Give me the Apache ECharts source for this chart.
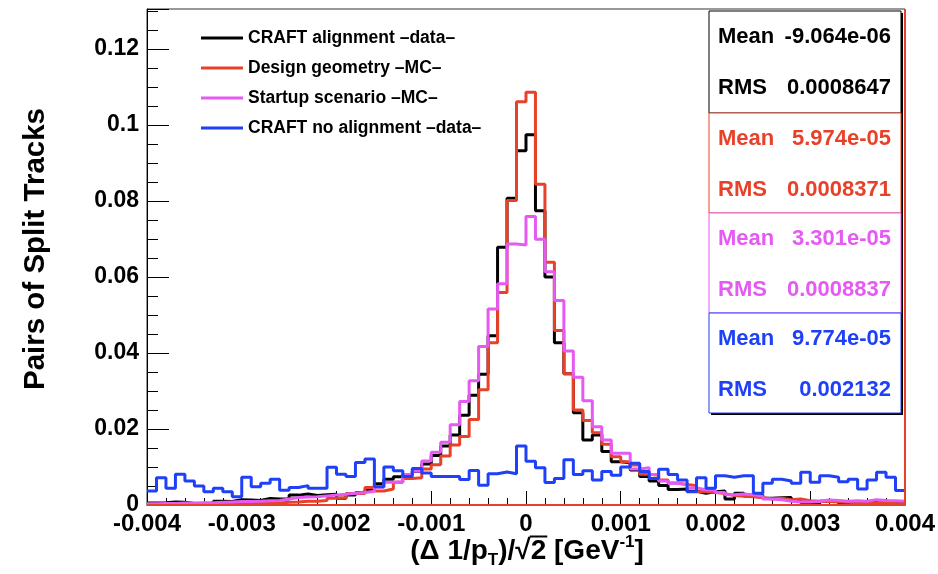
<!DOCTYPE html>
<html>
<head>
<meta charset="utf-8">
<script src="https://cdn.jsdelivr.net/npm/echarts@6/dist/echarts.min.js"></script>
<style>
  html, body { margin: 0; padding: 0; background: #fff; }
  #chart { width: 938px; height: 574px; }
</style>
</head>
<body>
<div id="chart"></div>
<script>
// Histogram binning: 80 bins of width 1e-4 from -0.004 to 0.004
const binLow = -0.004;
const binWidth = 0.0001;

const seriesNames = [
  'CRAFT alignment \u2013data\u2013',
  'Design geometry \u2013MC\u2013',
  'Startup scenario \u2013MC\u2013',
  'CRAFT no alignment \u2013data\u2013'
];
const seriesColors = ['#000000', '#e8412a', '#e45af2', '#1e40f8'];

// normalised bin contents (pairs of split tracks)
const craftAligned = [
  0.0005, 0.0006, 0.0008, 0.0007, 0.0004, 0.0002, 0.0004, 0.0010, 0.0009, 0.0014,
  0.0013, 0.0012, 0.0017, 0.0016, 0.0016, 0.0026, 0.0029, 0.0025, 0.0027, 0.0028,
  0.0018, 0.0026, 0.0032, 0.0039, 0.0056, 0.0068, 0.0074, 0.0080, 0.0088, 0.0108,
  0.0130, 0.0155, 0.0184, 0.0236, 0.0289, 0.0344, 0.0445, 0.0678, 0.0807, 0.0932,
  0.0974, 0.0774, 0.0600, 0.0427, 0.0345, 0.0243, 0.0171, 0.0184, 0.0141, 0.0114,
  0.0111, 0.0092, 0.0075, 0.0063, 0.0051, 0.0041, 0.0042, 0.0036, 0.0031, 0.0035,
  0.0037, 0.0016, 0.0031, 0.0024, 0.0026, 0.0018, 0.0019, 0.0020, 0.0013, 0.0006,
  0.0003, 0.0010, 0.0011, 0.0004, 0.0003, 0.0008, 0.0012, 0.0005, 0.0003, 0.0004
];
const designMC = [
  0.0001, 0.0001, 0.0001, 0.0002, 0.0001, 0.0002, 0.0002, 0.0003, 0.0004, 0.0003,
  0.0004, 0.0004, 0.0005, 0.0005, 0.0007, 0.0008, 0.0010, 0.0010, 0.0012, 0.0018,
  0.0019, 0.0030, 0.0030, 0.0046, 0.0037, 0.0042, 0.0060, 0.0070, 0.0072, 0.0095,
  0.0106, 0.0129, 0.0158, 0.0180, 0.0225, 0.0303, 0.0427, 0.0559, 0.0801, 0.1061,
  0.1086, 0.0844, 0.0639, 0.0459, 0.0345, 0.0250, 0.0222, 0.0190, 0.0160, 0.0127,
  0.0114, 0.0105, 0.0081, 0.0078, 0.0066, 0.0058, 0.0054, 0.0051, 0.0035, 0.0033,
  0.0030, 0.0025, 0.0023, 0.0022, 0.0019, 0.0016, 0.0018, 0.0014, 0.0016, 0.0011,
  0.0010, 0.0009, 0.0008, 0.0007, 0.0006, 0.0004, 0.0005, 0.0006, 0.0003, 0.0003
];
const startupMC = [
  0.0003, 0.0004, 0.0004, 0.0005, 0.0005, 0.0006, 0.0006, 0.0007, 0.0008, 0.0009,
  0.0009, 0.0010, 0.0011, 0.0012, 0.0016, 0.0020, 0.0021, 0.0022, 0.0024, 0.0026,
  0.0028, 0.0031, 0.0033, 0.0036, 0.0047, 0.0060, 0.0061, 0.0080, 0.0089, 0.0116,
  0.0139, 0.0165, 0.0211, 0.0272, 0.0327, 0.0417, 0.0516, 0.0582, 0.0687, 0.0684,
  0.0759, 0.0699, 0.0614, 0.0538, 0.0405, 0.0336, 0.0274, 0.0206, 0.0171, 0.0136,
  0.0136, 0.0095, 0.0098, 0.0080, 0.0063, 0.0057, 0.0053, 0.0045, 0.0040, 0.0039,
  0.0033, 0.0027, 0.0029, 0.0027, 0.0023, 0.0016, 0.0014, 0.0010, 0.0008, 0.0008,
  0.0009, 0.0013, 0.0012, 0.0010, 0.0011, 0.0010, 0.0014, 0.0012, 0.0011, 0.0010
];
const craftNoAlign = [
  0.0037, 0.0072, 0.0044, 0.0081, 0.0063, 0.0050, 0.0035, 0.0044, 0.0035, 0.0022,
  0.0073, 0.0048, 0.0057, 0.0068, 0.0039, 0.0046, 0.0051, 0.0044, 0.0044, 0.0099,
  0.0081, 0.0075, 0.0112, 0.0121, 0.0048, 0.0100, 0.0090, 0.0075, 0.0096, 0.0084,
  0.0075, 0.0075, 0.0075, 0.0067, 0.0091, 0.0052, 0.0082, 0.0087, 0.0082, 0.0155,
  0.0115, 0.0098, 0.0059, 0.0070, 0.0119, 0.0080, 0.0090, 0.0066, 0.0088, 0.0078,
  0.0100, 0.0110, 0.0088, 0.0070, 0.0094, 0.0080, 0.0066, 0.0035, 0.0072, 0.0044,
  0.0077, 0.0073, 0.0077, 0.0077, 0.0031, 0.0057, 0.0068, 0.0063, 0.0057, 0.0086,
  0.0060, 0.0077, 0.0073, 0.0061, 0.0068, 0.0042, 0.0066, 0.0086, 0.0073, 0.0038
];

// statistics box contents
const statMeans = ['-9.064e-06', '5.974e-05', '3.301e-05', '9.774e-05'];
const statRMS = ['0.0008647', '0.0008371', '0.0008837', '0.002132'];

const xMin = -0.004, xMax = 0.004, xStep = 0.001;
const yMin = 0, yMax = 0.1305, yStep = 0.02;

// turn bin contents into step-line points (left edge of every bin + closing right edge)
function toSteps(values) {
  const pts = values.map((v, i) => [binLow + i * binWidth, v]);
  pts.push([binLow + values.length * binWidth, values[values.length - 1]]);
  return pts;
}

const FONT = '"Liberation Sans", Arial, Helvetica, sans-serif';
const chart = echarts.init(document.getElementById('chart'), null, { renderer: 'canvas' });

const histos = [craftAligned, designMC, startupMC, craftNoAlign];
const series = histos.map((vals, i) => ({
  name: seriesNames[i],
  type: 'line',
  step: 'end',
  data: toSteps(vals),
  symbol: 'none',
  color: seriesColors[i],
  lineStyle: { width: 3, color: seriesColors[i] },
  z: 2 + i,
  animation: false
}));
// bottom and right frame edges redrawn in the design-geometry colour
series.push({
  type: 'line',
  data: [[xMin, yMin], [xMax, yMin], [xMax, yMax]],
  symbol: 'none',
  clip: false,
  silent: true,
  lineStyle: { width: 2, color: seriesColors[1] },
  z: 8,
  animation: false
});

// x-axis title pieces: (Δ 1/p_T)/√2 [GeV^-1]
const titleSize = 28, subSize = 17;
const titleParts = [
  { t: '(\u0394 1/p', s: titleSize },
  { t: 'T', s: subSize, dy: 9 },
  { t: ')/\u221a', s: titleSize },
  { t: '2', s: titleSize, bar: true },
  { t: ' [GeV', s: titleSize },
  { t: '-1', s: subSize, dy: -9 },
  { t: ']', s: titleSize }
];
const measureCtx = document.createElement('canvas').getContext('2d');
function textWidth(t, s) {
  measureCtx.font = 'bold ' + s + 'px ' + FONT;
  return measureCtx.measureText(t).width;
}

const graphics = [];
(function buildXTitle() {
  const cx = 147 + 760 / 2, cy = 551;
  const total = titleParts.reduce((a, p) => a + textWidth(p.t, p.s), 0);
  let x = cx - total / 2;
  titleParts.forEach(p => {
    const w = textWidth(p.t, p.s);
    graphics.push({
      type: 'text', silent: true,
      style: { x: x, y: cy + (p.dy || 0), text: p.t, fill: '#000',
               font: 'bold ' + p.s + 'px ' + FONT, textAlign: 'left', textVerticalAlign: 'middle' }
    });
    if (p.bar) {
      graphics.push({
        type: 'line', silent: true,
        shape: { x1: x - 1, y1: cy - 14.5, x2: x + w + 1, y2: cy - 14.5 },
        style: { stroke: '#000', lineWidth: 2 }
      });
    }
    x += w;
  });
})();

// statistics boxes
const boxX = 709, boxW = 192;
const boxTops = [11, 113, 213, 313];
const boxH = [102, 100, 100, 100];
for (let i = 0; i < 4; i++) {
  graphics.push({
    type: 'rect', silent: true, z: 10,
    shape: { x: boxX + 2, y: boxTops[i] + 2, width: boxW, height: boxH[i] },
    style: { fill: '#000' }
  });
}
for (let i = 0; i < 4; i++) {
  const c = seriesColors[i];
  graphics.push({
    type: 'rect', silent: true, z: 11,
    shape: { x: boxX, y: boxTops[i], width: boxW, height: boxH[i] },
    style: { fill: '#fff', stroke: c, lineWidth: 1 }
  });
  const rows = [['Mean', statMeans[i], 26], ['RMS', statRMS[i], 77]];
  rows.forEach(([lab, val, dy]) => {
    graphics.push({
      type: 'text', silent: true, z: 12,
      style: { x: 718, y: boxTops[i] + dy, text: lab, fill: c,
               font: 'bold 22px ' + FONT, textVerticalAlign: 'middle', textAlign: 'left' }
    });
    graphics.push({
      type: 'text', silent: true, z: 12,
      style: { x: 891, y: boxTops[i] + dy, text: val, fill: c,
               font: 'bold 22px ' + FONT, textVerticalAlign: 'middle', textAlign: 'right' }
    });
  });
}

const option = {
  backgroundColor: '#fff',
  animation: false,
  grid: { left: 147, right: 31, top: 9, bottom: 69, show: true, borderColor: '#333', borderWidth: 1 },
  legend: {
    data: seriesNames,
    orient: 'vertical',
    left: 201, top: 29,
    padding: 0,
    icon: 'rect',
    itemWidth: 42, itemHeight: 3,
    itemGap: 12,
    selectedMode: false,
    textStyle: { fontFamily: FONT, fontWeight: 'bold', fontSize: 17.5, color: '#000', lineHeight: 18 }
  },
  xAxis: [{
    type: 'value', min: xMin, max: xMax, interval: xStep,
    axisLine: { show: true, onZero: false, lineStyle: { color: '#000', width: 1 } },
    axisTick: { show: true, inside: true, length: 14, lineStyle: { color: '#000' } },
    minorTick: { show: true, splitNumber: 5, length: 7, lineStyle: { color: '#000' } },
    splitLine: { show: false },
    axisLabel: { fontFamily: FONT, fontWeight: 'bold', fontSize: 24, color: '#000', margin: 7 }
  }],
  yAxis: [{
    type: 'value', min: yMin, max: yMax, interval: yStep,
    axisLine: { show: true, onZero: false, lineStyle: { color: '#000', width: 1 } },
    axisTick: { show: true, inside: true, length: 22, lineStyle: { color: '#000' } },
    minorTick: { show: true, splitNumber: 4, length: 11, lineStyle: { color: '#000' } },
    splitLine: { show: false },
    axisLabel: { fontFamily: FONT, fontWeight: 'bold', fontSize: 23, color: '#000', margin: 8, showMaxLabel: false },
    name: 'Pairs of Split Tracks',
    nameLocation: 'middle', nameRotate: 90, nameGap: 96,
    nameTextStyle: { fontFamily: FONT, fontWeight: 'bold', fontSize: 29.5, color: '#000', padding: [0, 0, 0, 16] }
  }],
  series: series,
  graphic: graphics
};
chart.setOption(option);
</script>
</body>
</html>
